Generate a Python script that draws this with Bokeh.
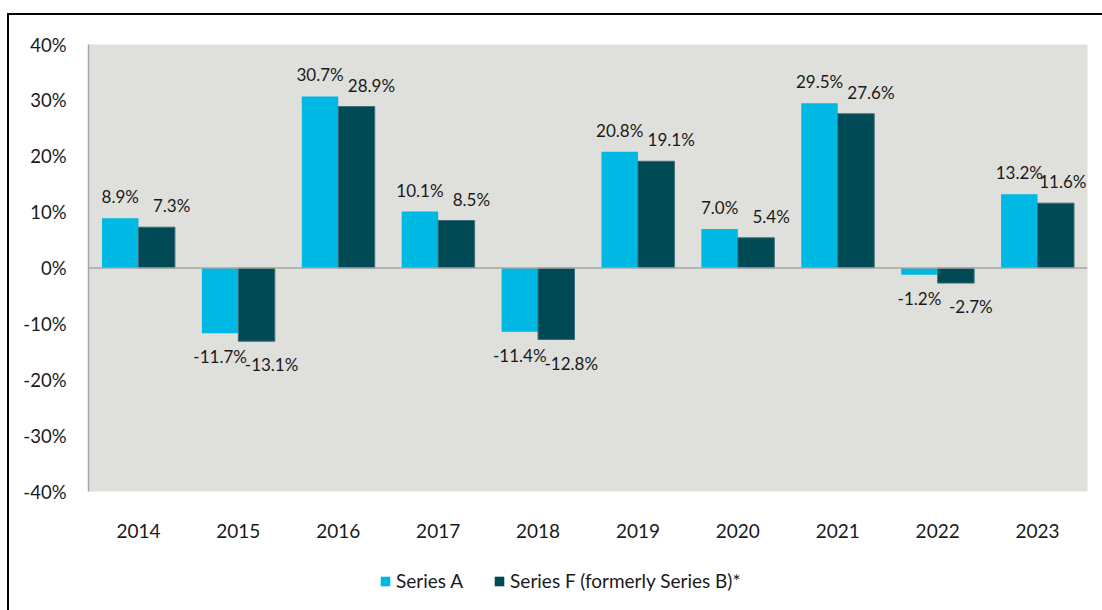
from bokeh.plotting import figure
from bokeh.layouts import column
from bokeh.models import (ColumnDataSource, FactorRange, Range1d, FixedTicker, PrintfTickFormatter,
                          Span, Legend, LegendItem)
from bokeh.transform import dodge
from bokeh.core.properties import value
from bokeh.embed import file_html
from bokeh.resources import INLINE

years = ["2014", "2015", "2016", "2017", "2018", "2019", "2020", "2021", "2022", "2023"]
series_a = [8.9, -11.7, 30.7, 10.1, -11.4, 20.8, 7.0, 29.5, -1.2, 13.2]
series_f = [7.3, -13.1, 28.9, 8.5, -12.8, 19.1, 5.4, 27.6, -2.7, 11.6]
y_ticks = [-40, -30, -20, -10, 0, 10, 20, 30, 40]
name_a = "Series A"
name_f = "Series F (formerly Series B)*"

COL_A = "#00B8E4"
COL_F = "#004A55"
FONT = "Lato"
TXT = "#1a1a1a"

p = figure(x_range=FactorRange(*years, range_padding=0), y_range=Range1d(-40, 40),
           width=1102, height=560, output_backend="svg", toolbar_location=None,
           min_border_left=88, min_border_right=15, min_border_top=44, min_border_bottom=69)
p.background_fill_color = "#DFDFDB"
p.border_fill_alpha = 0
p.outline_line_color = None
p.xgrid.grid_line_color = None
p.ygrid.grid_line_color = None
# outer black frame (top and left edges visible, as in the reference)
p.styles = {"background": "linear-gradient(#000,#000) 7px 13px / 2px calc(100% - 13px) no-repeat, "
                          "linear-gradient(#000,#000) 7px 13px / calc(100% - 7px) 2px no-repeat, #fff"}

src = ColumnDataSource(dict(year=years, a=series_a, f=series_f))

W = 0.365
ra = p.vbar(x=dodge("year", -W / 2, range=p.x_range), top="a", bottom=0, width=W,
            source=src, fill_color=COL_A, line_color=None)
rf = p.vbar(x=dodge("year", W / 2, range=p.x_range), top="f", bottom=0, width=W,
            source=src, fill_color=COL_F, line_color="#3E6E75", line_width=1)

def label_sources(vals, shift):
    pos = dict(year=[], v=[], t=[], xo=[])
    neg = dict(year=[], v=[], t=[], xo=[])
    n = len(vals)
    for i, (y, v) in enumerate(zip(years, vals)):
        d = pos if v >= 0 else neg
        d["year"].append(y); d["v"].append(v); d["t"].append(f"{v:.1f}%")
        # keep the last label inside the plot area
        d["xo"].append(min(shift, 7) if i == n - 1 else shift)
    return ColumnDataSource(pos), ColumnDataSource(neg)

for vals, off, shift in ((series_a, -W / 2, 0), (series_f, W / 2, 15)):
    sp, sn = label_sources(vals, shift)
    p.text(x=dodge("year", off, range=p.x_range), y="v", text="t", source=sp,
           text_align="center", text_baseline="bottom", y_offset=-11, x_offset="xo",
           text_font=value(FONT), text_font_size="17px", text_color=TXT)
    p.text(x=dodge("year", off, range=p.x_range), y="v", text="t", source=sn,
           text_align="center", text_baseline="top", y_offset=13, x_offset="xo",
           text_font=value(FONT), text_font_size="17px", text_color=TXT)

p.add_layout(Span(location=0, dimension="width", line_color="#A6A6A6", line_width=1.5))

p.yaxis.ticker = FixedTicker(ticks=y_ticks)
p.yaxis.formatter = PrintfTickFormatter(format="%d%%")
p.yaxis.axis_line_color = "#A6A6A6"
p.yaxis.axis_line_width = 1.5
p.yaxis.major_tick_line_color = None
p.yaxis.minor_tick_line_color = None
p.yaxis.major_label_standoff = 16
p.yaxis.major_label_text_font = FONT
p.yaxis.major_label_text_font_size = "18.5px"
p.yaxis.major_label_text_color = TXT

p.xaxis.axis_line_color = None
p.xaxis.major_tick_line_color = None
p.xaxis.minor_tick_line_color = None
p.xaxis.major_label_standoff = 26
p.xaxis.major_label_text_font = FONT
p.xaxis.major_label_text_font_size = "19px"
p.xaxis.major_label_text_color = TXT

# legend strip below the chart (its frame is aligned with the chart frame by the column)
lg = figure(width=1102, height=50, x_range=Range1d(0, 1), y_range=Range1d(0, 1),
            output_backend="svg", toolbar_location=None, x_axis_type=None, y_axis_type=None,
            min_border=0, min_border_left=0, min_border_right=0, min_border_top=0, min_border_bottom=0)
lg.outline_line_color = None
lg.background_fill_alpha = 0
lg.border_fill_alpha = 0
lg.xgrid.grid_line_color = None
lg.ygrid.grid_line_color = None
lg.styles = {"background": "linear-gradient(#000,#000) 7px 0px / 2px 100% no-repeat, #fff"}
# hidden proxy renderers, used only to draw the legend swatches
la = lg.vbar(x="a", top="a", width=0.1, source=src, fill_color=COL_A, line_color=None, visible=False)
lf = lg.vbar(x="f", top="f", width=0.1, source=src, fill_color=COL_F, line_color=None, visible=False)

legend = Legend(items=[LegendItem(label=name_a, renderers=[la]),
                       LegendItem(label=name_f, renderers=[lf])],
                orientation="horizontal", location=(291, 18),
                glyph_width=12, glyph_height=12, label_standoff=5, spacing=30,
                padding=0, margin=0, border_line_color=None, background_fill_alpha=0,
                label_text_font=FONT, label_text_font_size="19px", label_text_color=TXT)
lg.add_layout(legend, "center")

open("out.html", "w").write(file_html(column(p, lg, spacing=0), INLINE))
